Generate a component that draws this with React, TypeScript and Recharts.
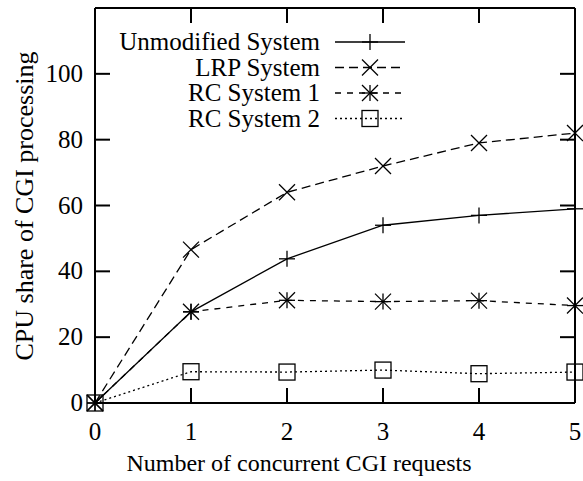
import React from "react";
import { LineChart, Line, XAxis, YAxis, Legend } from "recharts";

// ── Data ────────────────────────────────────────────────────────────────────

const requests = [0, 1, 2, 3, 4, 5];
const unmodified = [0, 27.7, 43.8, 54, 57, 59];
const lrp = [0, 46.6, 64, 72, 79, 82];
const rc1 = [0, 27.7, 31.2, 30.8, 31.1, 29.6];
const rc2 = [0, 9.5, 9.4, 10, 8.9, 9.4];

const xTicks = [0, 1, 2, 3, 4, 5];
const yTicks = [0, 20, 40, 60, 80, 100];
const X_MAX = 5;
const Y_MAX = 120;

const data = requests.map((x, i) => ({
  x,
  unmodified: unmodified[i],
  lrp: lrp[i],
  rc1: rc1[i],
  rc2: rc2[i],
}));

type MarkerKind = "plus" | "cross" | "star" | "square";

const series: { key: string; name: string; dash?: string; marker: MarkerKind }[] = [
  { key: "unmodified", name: "Unmodified System", marker: "plus" },
  { key: "lrp", name: "LRP System", dash: "9 5", marker: "cross" },
  { key: "rc1", name: "RC System 1", dash: "6 6", marker: "star" },
  { key: "rc2", name: "RC System 2", dash: "2 3", marker: "square" },
];

// ── Layout ──────────────────────────────────────────────────────────────────

const W = 583;
const H = 481;
const MARGIN = { top: 8, right: 8, left: 0, bottom: 0 };
const Y_AXIS_W = 95;
const X_AXIS_H = 78;
const PLOT_LEFT = MARGIN.left + Y_AXIS_W;
const PLOT_TOP = MARGIN.top;
const PLOT_W = W - MARGIN.right - PLOT_LEFT;
const PLOT_H = H - MARGIN.bottom - X_AXIS_H - PLOT_TOP;

const FONT = "Liberation Serif, Times New Roman, serif";
const TICK = 15;

// ── Marker shapes ───────────────────────────────────────────────────────────

function Marker({ kind, cx, cy }: { kind: MarkerKind; cx: number; cy: number }) {
  const s = 8;
  const st = { stroke: "#000", strokeWidth: 1.3, fill: "none" };
  if (kind === "plus") {
    return (
      <g {...st}>
        <line x1={cx - s} y1={cy} x2={cx + s} y2={cy} />
        <line x1={cx} y1={cy - s} x2={cx} y2={cy + s} />
      </g>
    );
  }
  if (kind === "cross") {
    return (
      <g {...st}>
        <line x1={cx - s} y1={cy - s} x2={cx + s} y2={cy + s} />
        <line x1={cx - s} y1={cy + s} x2={cx + s} y2={cy - s} />
      </g>
    );
  }
  if (kind === "star") {
    return (
      <g {...st}>
        <line x1={cx - s} y1={cy} x2={cx + s} y2={cy} />
        <line x1={cx} y1={cy - s} x2={cx} y2={cy + s} />
        <line x1={cx - s} y1={cy - s} x2={cx + s} y2={cy + s} />
        <line x1={cx - s} y1={cy + s} x2={cx + s} y2={cy - s} />
      </g>
    );
  }
  return <rect x={cx - s} y={cy - s} width={2 * s} height={2 * s} {...st} />;
}

// ── Axis tick labels ────────────────────────────────────────────────────────

const BottomTick = (props: any) => (
  <text x={props.x} y={Number(props.y) + 37} textAnchor="middle" fontFamily={FONT} fontSize={25} fill="#000">
    {props.payload.value}
  </text>
);

const LeftTick = (props: any) => (
  <text x={Number(props.x) - 12} y={Number(props.y) + 8} textAnchor="end" fontFamily={FONT} fontSize={25} fill="#000">
    {props.payload.value}
  </text>
);

// ── Frame with inward, mirrored tick marks (gnuplot border) ────────────────

const sx = (t: number) => PLOT_LEFT + (t / X_MAX) * PLOT_W;
const sy = (v: number) => PLOT_TOP + PLOT_H - (v / Y_MAX) * PLOT_H;

function Frame() {
  const bottom = PLOT_TOP + PLOT_H;
  const right = PLOT_LEFT + PLOT_W;
  return (
    <svg
      width={W}
      height={H}
      style={{ position: "absolute", left: 0, top: 0, pointerEvents: "none", zIndex: 10 }}
    >
      <g stroke="#000" strokeWidth={2} fill="none">
        <line x1={PLOT_LEFT} y1={PLOT_TOP} x2={right} y2={PLOT_TOP} />
        <line x1={right} y1={PLOT_TOP} x2={right} y2={bottom} />
        <line x1={PLOT_LEFT} y1={bottom} x2={right} y2={bottom} />
        <line x1={PLOT_LEFT} y1={PLOT_TOP} x2={PLOT_LEFT} y2={bottom} />
        {xTicks.map((t) => (
          <g key={`x${t}`}>
            <line x1={sx(t)} y1={bottom} x2={sx(t)} y2={bottom - TICK} />
            <line x1={sx(t)} y1={PLOT_TOP} x2={sx(t)} y2={PLOT_TOP + TICK} />
          </g>
        ))}
        {yTicks.map((v) => (
          <g key={`y${v}`}>
            <line x1={PLOT_LEFT} y1={sy(v)} x2={PLOT_LEFT + TICK} y2={sy(v)} />
            <line x1={right} y1={sy(v)} x2={right - TICK} y2={sy(v)} />
          </g>
        ))}
      </g>
    </svg>
  );
}

// ── Legend ──────────────────────────────────────────────────────────────────

const renderLegend = () => (
  <svg width={320} height={110}>
    {series.map((s, i) => {
      const cy = 14 + i * 25.5;
      return (
        <g key={s.key}>
          <text x={220} y={cy + 8} textAnchor="end" fontFamily={FONT} fontSize={25} fill="#000">
            {s.name}
          </text>
          <line x1={235} y1={cy} x2={305} y2={cy} stroke="#000" strokeWidth={1.3} strokeDasharray={s.dash} />
          <Marker kind={s.marker} cx={270} cy={cy} />
        </g>
      );
    })}
  </svg>
);

export default function App() {
  return (
    <div style={{ position: "absolute", left: 0, top: 0, width: W, height: H, background: "#fff" }}>
      <LineChart width={W} height={H} data={data} margin={MARGIN}>
        <XAxis
          dataKey="x"
          type="number"
          domain={[0, X_MAX]}
          ticks={xTicks}
          height={X_AXIS_H}
          tickSize={0}
          tickMargin={0}
          tick={BottomTick}
          interval={0}
          axisLine={{ stroke: "#000", strokeWidth: 2 }}
          label={{
            content: () => (
              <text x={299} y={471} textAnchor="middle" fontFamily={FONT} fontSize={24} fill="#000">
                Number of concurrent CGI requests
              </text>
            ),
          }}
        />
        <YAxis
          type="number"
          domain={[0, Y_MAX]}
          ticks={yTicks}
          width={Y_AXIS_W}
          tickSize={0}
          tickMargin={0}
          tick={LeftTick}
          interval={0}
          axisLine={{ stroke: "#000", strokeWidth: 2 }}
          label={{
            content: () => (
              <text
                x={0}
                y={0}
                transform="translate(33 206) rotate(-90)"
                textAnchor="middle"
                fontFamily={FONT}
                fontSize={26}
                fill="#000"
              >
                CPU share of CGI processing
              </text>
            ),
          }}
        />
        <Legend
          layout="vertical"
          align="center"
          verticalAlign="middle"
          content={renderLegend}
          wrapperStyle={{ left: 100, top: 28, width: 320, height: 110 }}
        />
        {series.map((s) => (
          <Line
            key={s.key}
            dataKey={s.key}
            name={s.name}
            type="linear"
            stroke="#000"
            strokeWidth={1.3}
            strokeDasharray={s.dash}
            isAnimationActive={false}
            dot={(p: any) => <Marker key={`${s.key}-${p.index}`} kind={s.marker} cx={p.cx} cy={p.cy} />}
            activeDot={false}
          />
        ))}
      </LineChart>
      <Frame />
    </div>
  );
}
